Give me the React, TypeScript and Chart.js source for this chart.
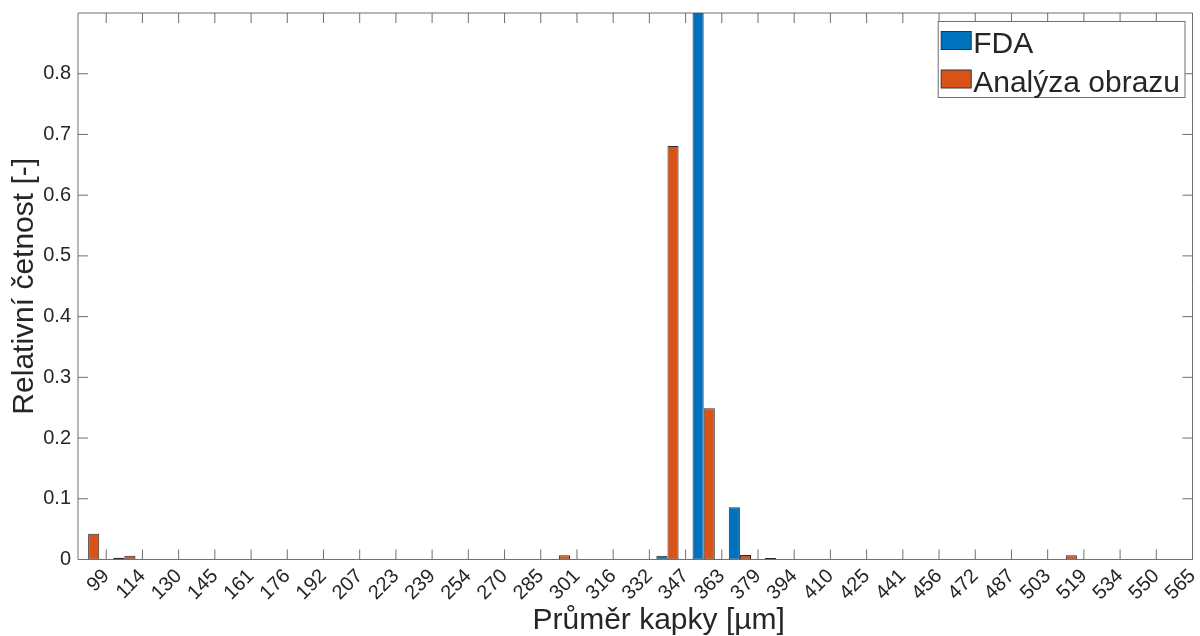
import React, { useEffect, useRef } from 'react';
import { Chart, registerables } from 'chart.js';

Chart.register(...registerables);

// Tick labels of the x axis (bin edges, µm)
const categories = [
  '99', '114', '130', '145', '161', '176', '192', '207', '223', '239', '254',
  '270', '285', '301', '316', '332', '347', '363', '379', '394', '410', '425',
  '441', '456', '472', '487', '503', '519', '534', '550', '565',
];

// Bar positions on the tick-index axis (bars sit between the labelled ticks)
const binPositions = [
  -0.5, 0.5, 1.5, 2.5, 3.5, 4.5, 5.5, 6.5, 7.5, 8.5, 9.5, 10.5, 11.5, 12.5, 13.5,
  14.5, 15.5, 16.5, 17.5, 18.5, 19.5, 20.5, 21.5, 22.5, 23.5, 24.5, 25.5, 26.5,
  27.5, 28.5, 29.5,
];

const fdaValues = [
  0, 0.003, 0, 0, 0, 0, 0, 0, 0, 0, 0, 0, 0, 0, 0, 0,
  0.006, 0.9, 0.086, 0.0025, 0, 0, 0, 0, 0, 0, 0, 0, 0, 0, 0,
];

const imageValues = [
  0.0425, 0.006, 0, 0, 0, 0, 0, 0, 0, 0, 0, 0, 0, 0.007, 0, 0,
  0.681, 0.249, 0.0074, 0, 0, 0, 0, 0, 0, 0, 0, 0.007, 0, 0, 0,
];

const yTickValues = [0, 0.1, 0.2, 0.3, 0.4, 0.5, 0.6, 0.7, 0.8];
const yTickLabels = ['0', '0.1', '0.2', '0.3', '0.4', '0.5', '0.6', '0.7', '0.8'];

const seriesNames = ['FDA', 'Analýza obrazu'];
const xTitle = 'Průměr kapky [µm]';
const yTitle = 'Relativní četnost [-]';

const FONT = "'Liberation Sans', Arial, Helvetica, sans-serif";
const TEXT = '#262626';
const AXIS = '#6f6f6f';

const framePlugin = {
  id: 'matlabFrame',
  afterDraw(chart: any) {
    const { ctx, chartArea, scales } = chart;
    const { left, right, top, bottom } = chartArea;
    const tl = 10;
    ctx.save();
    ctx.strokeStyle = AXIS;
    ctx.lineWidth = 1;
    ctx.beginPath();
    ctx.rect(left, top, right - left, bottom - top);
    scales.x.ticks.forEach((t: any) => {
      const px = scales.x.getPixelForValue(t.value);
      ctx.moveTo(px, bottom);
      ctx.lineTo(px, bottom - tl);
      ctx.moveTo(px, top);
      ctx.lineTo(px, top + tl);
    });
    scales.y.ticks.forEach((t: any) => {
      const py = scales.y.getPixelForValue(t.value);
      ctx.moveTo(left, py);
      ctx.lineTo(left + tl, py);
      ctx.moveTo(right, py);
      ctx.lineTo(right - tl, py);
    });
    ctx.stroke();

    // x axis title (placed slightly right of the plot centre, as in the original)
    ctx.font = `30px ${FONT}`;
    ctx.fillStyle = TEXT;
    ctx.textAlign = 'center';
    ctx.textBaseline = 'middle';
    ctx.fillText(xTitle, left + (right - left) * 0.521, 621);

    // legend box (inside, top-right)
    const ds = chart.data.datasets;
    const patchW = 30;
    const patchH = 18;
    const textW = Math.max(...ds.map((d: any) => ctx.measureText(d.label).width));
    const boxW = 3 + patchW + 2 + textW + 5;
    const boxH = 76;
    const bx = right - 7.5 - boxW;
    const by = top + 8.5;
    ctx.fillStyle = '#ffffff';
    ctx.fillRect(bx, by, boxW, boxH);
    ctx.strokeStyle = AXIS;
    ctx.strokeRect(bx, by, boxW, boxH);
    ds.forEach((d: any, i: number) => {
      const rowY = by + 10 + i * 38.5;
      ctx.fillStyle = d.backgroundColor;
      ctx.fillRect(bx + 3, rowY, patchW, patchH);
      ctx.strokeStyle = '#333333';
      ctx.strokeRect(bx + 3, rowY, patchW, patchH);
      ctx.fillStyle = TEXT;
      ctx.textBaseline = 'alphabetic';
      ctx.textAlign = 'left';
      ctx.fillText(d.label, bx + 3 + patchW + 2, rowY + 21.5);
    });
    ctx.restore();
  },
};

export default function App() {
  const canvasRef = useRef<HTMLCanvasElement | null>(null);

  useEffect(() => {
    if (!canvasRef.current) return;
    const barStyle = {
      borderColor: '#2b2b2b',
      borderWidth: 1,
      borderSkipped: false,
      categoryPercentage: 0.614,
      barPercentage: 1,
    };
    const chart = new Chart(canvasRef.current, {
      type: 'bar',
      data: {
        datasets: [
          {
            label: seriesNames[0],
            data: binPositions.map((x, i) => ({ x, y: fdaValues[i] })),
            backgroundColor: '#0072BD',
            ...barStyle,
          },
          {
            label: seriesNames[1],
            data: binPositions.map((x, i) => ({ x, y: imageValues[i] })),
            backgroundColor: '#D95319',
            ...barStyle,
          },
        ],
      } as any,
      options: {
        animation: false,
        responsive: true,
        maintainAspectRatio: false,
        layout: { padding: { top: 13, right: 7.5, left: 0, bottom: 0 } },
        plugins: {
          legend: { display: false },
          tooltip: { enabled: false },
        },
        scales: {
          x: {
            type: 'linear',
            min: -0.78,
            max: 30,
            offset: false,
            grid: { display: false, drawTicks: false, offset: false },
            border: { display: false },
            afterBuildTicks: (s: any) => {
              s.ticks = categories.map((_, i) => ({ value: i }));
            },
            afterFit: (s: any) => {
              s.height = 76.5;
              s.paddingLeft = 0;
              s.paddingRight = 0;
            },
            ticks: {
              autoSkip: false,
              minRotation: 45,
              maxRotation: 45,
              padding: 5,
              color: TEXT,
              font: { family: FONT, size: 20 },
              callback: (v: any) => categories[v] ?? '',
            },
            title: { display: false },
          },
          y: {
            type: 'linear',
            min: 0,
            max: 0.9,
            grid: { display: false, drawTicks: false },
            border: { display: false },
            afterBuildTicks: (s: any) => {
              s.ticks = yTickValues.map((v) => ({ value: v }));
            },
            afterFit: (s: any) => {
              s.width = 78;
              s.paddingTop = 0;
              s.paddingBottom = 0;
            },
            ticks: {
              padding: 7,
              color: TEXT,
              font: { family: FONT, size: 20 },
              callback: (_v: any, i: number) => yTickLabels[i],
            },
            title: {
              display: true,
              text: yTitle,
              color: TEXT,
              font: { family: FONT, size: 30 },
              padding: { top: 7, bottom: 0 },
            },
          },
        },
      } as any,
      plugins: [framePlugin],
    });
    return () => chart.destroy();
  }, []);

  return (
    <div style={{ position: 'fixed', left: 0, top: 0, width: 1200, height: 636, background: '#fff' }}>
      <canvas ref={canvasRef} />
    </div>
  );
}
